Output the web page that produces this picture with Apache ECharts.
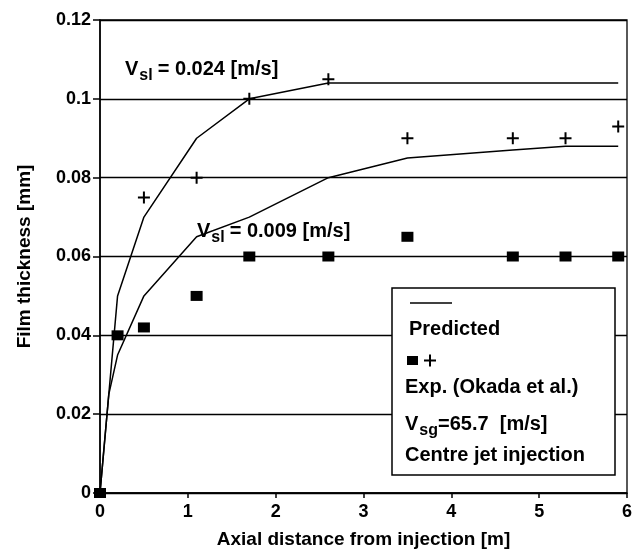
<!DOCTYPE html>
<html>
<head>
<meta charset="utf-8">
<script src="https://cdn.jsdelivr.net/npm/echarts@6/dist/echarts.min.js"></script>
<style>
  html, body { margin: 0; padding: 0; background: #fff; }
  #main { width: 640px; height: 554px; }
</style>
</head>
<body>
<div id="main"></div>
<script>
// 数据: 轴向距离 [m] 与 膜厚 [mm]
var predHighX = [0, 0.2, 0.5, 1.1, 1.7, 2.6, 5.9];
var predHighY = [0, 0.05, 0.07, 0.09, 0.1, 0.104, 0.104];
var predLowX = [0, 0.1, 0.2, 0.5, 1.1, 1.7, 2.6, 3.5, 4.7, 5.3, 5.9];
var predLowY = [0, 0.025, 0.035, 0.05, 0.065, 0.07, 0.08, 0.085, 0.087, 0.088, 0.088];
var expHighX = [0.5, 1.1, 1.7, 2.6, 3.5, 4.7, 5.3, 5.9];
var expHighY = [0.075, 0.08, 0.1, 0.105, 0.09, 0.09, 0.09, 0.093];
var expLowX = [0, 0.2, 0.5, 1.1, 1.7, 2.6, 3.5, 4.7, 5.3, 5.9];
var expLowY = [0, 0.04, 0.042, 0.05, 0.06, 0.06, 0.065, 0.06, 0.06, 0.06];

var fontFam = '"Liberation Sans", Arial, sans-serif';
// 十字标记
var plusPath = 'path://M5,0H7V5H12V7H7V12H5V7H0V5H5Z';

function pairs(xs, ys) {
    var out = [];
    for (var i = 0; i < xs.length; i++) out.push([xs[i], ys[i]]);
    return out;
}

// 文字宽度
var measureCtx = document.createElement('canvas').getContext('2d');
function textWidth(str, font) {
    measureCtx.font = font;
    return measureCtx.measureText(str).width;
}

// 带下标的文字 (V_sl 等)
function subText(x, y, main, sub, rest, size, z, gap) {
    var fMain = 'bold ' + size + 'px ' + fontFam;
    var fSub = 'bold ' + Math.round(size * 0.8) + 'px ' + fontFam;
    var w1 = textWidth(main, fMain);
    var w2 = textWidth(sub, fSub);
    return {
        type: 'group',
        x: x,
        y: y,
        z: z,
        children: [
            { type: 'text', x: 0, y: 0, z: z, style: { text: main, font: fMain, fill: '#000' } },
            { type: 'text', x: w1 + 1, y: size * 0.45, z: z, style: { text: sub, font: fSub, fill: '#000' } },
            { type: 'text', x: w1 + w2 + gap, y: 0, z: z, style: { text: rest, font: fMain, fill: '#000' } }
        ]
    };
}

var myChart = echarts.init(document.getElementById('main'));

var labelFont = { fontSize: 18, fontWeight: 'bold', color: '#000', fontFamily: fontFam };
var nameFont = { fontSize: 19, fontWeight: 'bold', color: '#000', fontFamily: fontFam };
var boxFont = 'bold 20px ' + fontFam;

var option = {
    animation: false,
    grid: {
        left: 100,
        right: 13,
        top: 20,
        bottom: 56,
        show: true,
        borderColor: '#000',
        borderWidth: 1.3
    },
    xAxis: {
        type: 'value',
        min: 0,
        max: 6,
        interval: 1,
        name: 'Axial distance from injection [m]',
        nameLocation: 'middle',
        nameGap: 37,
        nameTextStyle: nameFont,
        axisLine: { lineStyle: { color: '#000', width: 1.5 } },
        axisTick: { length: 5, lineStyle: { color: '#000', width: 1.5 } },
        axisLabel: Object.assign({ margin: 10 }, labelFont),
        splitLine: { show: false }
    },
    yAxis: {
        type: 'value',
        min: 0,
        max: 0.12,
        interval: 0.02,
        name: 'Film thickness [mm]',
        nameLocation: 'middle',
        nameGap: 66,
        nameTextStyle: nameFont,
        axisLine: { lineStyle: { color: '#000', width: 1.5 } },
        axisTick: { length: 7, lineStyle: { color: '#000', width: 1.5 } },
        axisLabel: Object.assign({ margin: 9 }, labelFont),
        splitLine: { show: true, lineStyle: { color: '#000', width: 1.3 } }
    },
    series: [
        {
            name: 'pred 0.024',
            type: 'line',
            data: pairs(predHighX, predHighY),
            symbol: 'none',
            lineStyle: { color: '#000', width: 1.5 },
            z: 3
        },
        {
            name: 'pred 0.009',
            type: 'line',
            data: pairs(predLowX, predLowY),
            symbol: 'none',
            lineStyle: { color: '#000', width: 1.5 },
            z: 3
        },
        {
            name: 'exp 0.024',
            type: 'scatter',
            data: pairs(expHighX, expHighY),
            symbol: plusPath,
            symbolSize: 12,
            itemStyle: { color: '#000', opacity: 1 },
            z: 4
        },
        {
            name: 'exp 0.009',
            type: 'scatter',
            data: pairs(expLowX, expLowY),
            symbol: 'rect',
            symbolSize: [12, 10],
            itemStyle: { color: '#000', opacity: 1 },
            z: 4
        }
    ],
    graphic: [
        subText(125, 59, 'V', 'sl', '= 0.024 [m/s]', 20, 5, 6),
        subText(197, 221, 'V', 'sl', '= 0.009 [m/s]', 20, 5, 6),
        // 图例框
        {
            type: 'rect',
            z: 10,
            shape: { x: 392, y: 288, width: 223, height: 187 },
            style: { fill: '#fff', stroke: '#000', lineWidth: 1.5 }
        },
        {
            type: 'line',
            z: 11,
            shape: { x1: 410, y1: 303, x2: 452, y2: 303 },
            style: { stroke: '#000', lineWidth: 1.5 }
        },
        {
            type: 'text', x: 409, y: 319, z: 11,
            style: { text: 'Predicted', font: boxFont, fill: '#000' }
        },
        {
            type: 'rect', z: 11,
            shape: { x: 407, y: 356, width: 11, height: 9 },
            style: { fill: '#000' }
        },
        {
            type: 'rect', z: 11,
            shape: { x: 424, y: 359.5, width: 12, height: 2 },
            style: { fill: '#000' }
        },
        {
            type: 'rect', z: 11,
            shape: { x: 429, y: 354.5, width: 2, height: 12 },
            style: { fill: '#000' }
        },
        {
            type: 'text', x: 405, y: 377, z: 11,
            style: { text: 'Exp. (Okada et al.)', font: boxFont, fill: '#000' }
        },
        subText(405, 414, 'V', 'sg', '=65.7  [m/s]', 20, 11, 1),
        {
            type: 'text', x: 405, y: 445, z: 11,
            style: { text: 'Centre jet injection', font: boxFont, fill: '#000' }
        }
    ]
};

myChart.setOption(option);

window.addEventListener('resize', function () {
    myChart.resize();
});
</script>
</body>
</html>
